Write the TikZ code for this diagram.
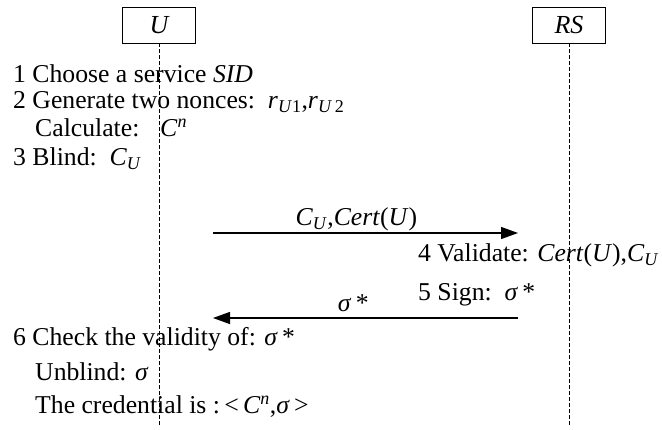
\documentclass[tikz,border=0pt]{standalone}
\usepackage{fontspec}
\setmainfont{Liberation Serif}
\usetikzlibrary{arrows.meta}
\newcommand{\vi}[1]{\textit{#1}}
\begin{document}
\begin{tikzpicture}[x=1pt,y=-1pt,
  actor/.style={draw,line width=0.8pt,minimum width=73pt,minimum height=36pt,inner sep=0pt,font=\fontsize{26}{28}\selectfont\itshape},
  life/.style={line width=0.7pt,dash pattern=on 4pt off 2pt},
  txt/.style={anchor=base west,inner sep=0pt,font=\fontsize{25.7}{28}\selectfont},
  msg/.style={line width=1.2pt,-{Triangle[length=17pt,width=12pt]}},
  lbl/.style={anchor=base,inner sep=0pt,font=\fontsize{25.7}{28}\selectfont}]
\useasboundingbox (0,0) rectangle (662,430);
\node[actor] (U) at (159,25) {U};
\node[actor] (RS) at (569,25) {RS};
\coordinate (Uend) at (159,425);
\coordinate (RSend) at (569,425);
\draw[life] (U.south) -- (Uend);
\draw[life] (RS.south) -- (RSend);
\node[txt] (t1) at (13,83) {1 Choose a service \vi{SID}};
\node[txt] (t2) at (13,109) {2 Generate two nonces:\ \ \vi{r}\textsubscript{\vi{U}1},\vi{r}\textsubscript{\vi{U}\,2}};
\node[txt] (t3) at (35,137) {Calculate:};
\node[txt] (t3b) at (160,137) {\vi{C}\textsuperscript{\vi{n}}};
\node[txt] (t4) at (13,166) {3 Blind:\ \ \vi{C}\textsubscript{\vi{U}}};
\coordinate (a1s) at (213,233);
\coordinate (a1e) at (518,233);
\draw[msg] (a1s) -- coordinate[pos=0.47] (m1) (a1e);
\node[lbl] (l1) at ([yshift=7pt]m1) {\vi{C}\textsubscript{\vi{U}},\vi{Cert}(\vi{U})};
\node[txt] (t5) at (418,262) {4 Validate: \vi{Cert}(\vi{U}),\vi{C}\textsubscript{\vi{U}}};
\node[txt] (t6) at (418,301) {5 Sign:\ \ \vi{σ}\,*};
\coordinate (a2s) at (518,318);
\coordinate (a2e) at (213,318);
\draw[msg] (a2s) -- coordinate[pos=0.54] (m2) (a2e);
\node[lbl] (l2) at ([yshift=6pt]m2) {\vi{σ}\,*};
\node[txt] (t7) at (13,346) {6 Check the validity of: \vi{σ}\,*};
\node[txt] (t8) at (35,381) {Unblind: \vi{σ}};
\node[txt] (t9) at (35,414) {The credential is :\,<\,\vi{C}\textsuperscript{\vi{n}},\vi{σ}\,>};
\end{tikzpicture}
\end{document}
